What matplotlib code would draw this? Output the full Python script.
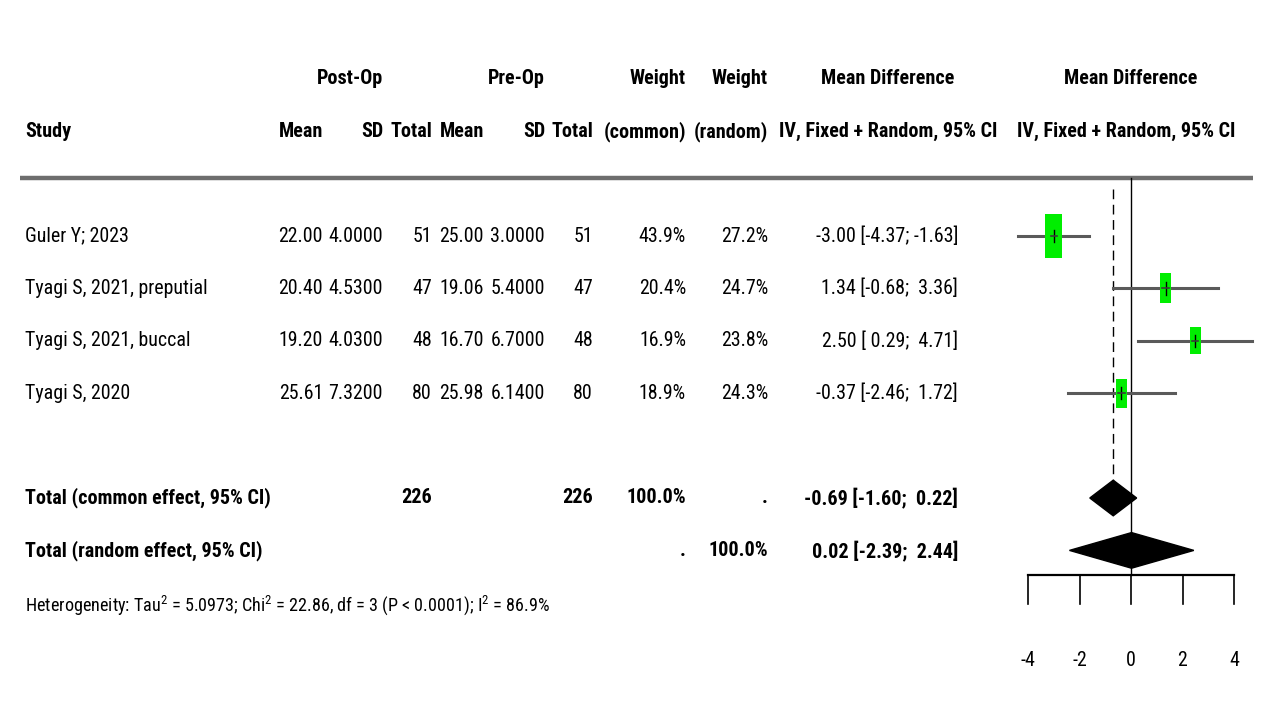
import matplotlib
matplotlib.use("Agg")
import matplotlib.pyplot as plt
from matplotlib import font_manager
from matplotlib.patches import Rectangle, Polygon
import numpy as np

# study data
studies = ["Guler Y; 2023", "Tyagi S, 2021, preputial", "Tyagi S, 2021, buccal", "Tyagi S, 2020"]
post_mean = ["22.00", "20.40", "19.20", "25.61"]
post_sd = ["4.0000", "4.5300", "4.0300", "7.3200"]
post_n = ["51", "47", "48", "80"]
pre_mean = ["25.00", "19.06", "16.70", "25.98"]
pre_sd = ["3.0000", "5.4000", "6.7000", "6.1400"]
pre_n = ["51", "47", "48", "80"]
w_common = [43.9, 20.4, 16.9, 18.9]
w_random = [27.2, 24.7, 23.8, 24.3]
md = [-3.00, 1.34, 2.50, -0.37]
lo = [-4.37, -0.68, 0.29, -2.46]
hi = [-1.63, 3.36, 4.71, 1.72]

# pooled estimates
pooled_labels = ["Total (common effect, 95% CI)", "Total (random effect, 95% CI)"]
pooled_md = [-0.69, 0.02]
pooled_lo = [-1.60, -2.39]
pooled_hi = [0.22, 2.44]
total_post = "226"
total_pre = "226"
het_text = ("Heterogeneity: Tau$^2$ = 5.0973; Chi$^2$ = 22.86, df = 3 "
            "(P < 0.0001); I$^2$ = 86.9%")
ticks = [-4, -2, 0, 2, 4]

# pick the narrowest sans available (reference uses a condensed Arial)
entries = font_manager.fontManager.ttflist
names = {f.name for f in entries}
stretch = "normal"
if "Liberation Sans Narrow" in names:
    fam = "Liberation Sans Narrow"
elif "Roboto Condensed" in names:
    fam = "Roboto Condensed"
elif any(f.name == "DejaVu Sans" and "ondensed" in f.fname for f in entries):
    fam = "DejaVu Sans"
    stretch = "condensed"
else:
    fam = "Liberation Sans"
plt.rcParams["font.family"] = [fam, "DejaVu Sans"]
plt.rcParams["font.stretch"] = stretch
plt.rcParams["mathtext.default"] = "regular"

W, H = 1269, 711
fig = plt.figure(figsize=(W / 100, H / 100), dpi=100)
renderer = fig.canvas.get_renderer()


def fit_size(s, target_px, **kw):
    t = fig.text(0, 0, s, fontsize=20, **kw)
    w = t.get_window_extent(renderer).width
    t.remove()
    return 20 * target_px / w


fs = fit_size("Tyagi S, 2021, preputial", 182)
fsb = fit_size("Total (common effect, 95% CI)", 245, fontweight="bold")
fsh = fit_size(het_text, 523)

# row r sits at pixel y = 236 + 52.4 * r
y_top = (0 - 236) / 52.4
y_bot = (H - 236) / 52.4

# text layer: x in pixels, y in rows
ax = fig.add_axes([0, 0, 1, 1])
ax.set_xlim(0, W)
ax.set_ylim(y_bot, y_top)
ax.axis("off")

# forest panel: x in mean-difference units
x0, x1 = 1028, 1234
fx = fig.add_axes([x0 / W, 0, (x1 - x0) / W, 1])
fx.set_xlim(-4, 4)
fx.set_ylim(y_bot, y_top)
fx.axis("off")

bold = dict(fontsize=fsb, fontweight="bold", va="center")
norm = dict(fontsize=fs, va="center")
col_x = [323, 383, 432, 484, 545, 593, 686, 768]

# headers
ax.text(350, -3, "Post-Op", ha="center", **bold)
ax.text(516, -3, "Pre-Op", ha="center", **bold)
ax.text(686, -3, "Weight", ha="right", **bold)
ax.text(768, -3, "Weight", ha="right", **bold)
ax.text(888, -3, "Mean Difference", ha="center", **bold)
ax.text(1131, -3, "Mean Difference", ha="center", **bold)
ax.text(25, -2, "Study", ha="left", **bold)
for x, s in zip(col_x, ["Mean", "SD", "Total", "Mean", "SD", "Total", "(common)", "(random)"]):
    ax.text(x, -2, s, ha="right", **bold)
ax.text(888, -2, "IV, Fixed + Random, 95% CI", ha="center", **bold)
ax.text(1126, -2, "IV, Fixed + Random, 95% CI", ha="center", **bold)

ax.plot([20, 1253], [-1.1, -1.1], color="#6e6e6e", lw=3.2, solid_capstyle="butt")

# study rows
for i, name in enumerate(studies):
    ax.text(25, i, name, ha="left", **norm)
    cols = [post_mean[i], post_sd[i], post_n[i], pre_mean[i], pre_sd[i], pre_n[i],
            f"{w_common[i]:.1f}%", f"{w_random[i]:.1f}%"]
    for x, s in zip(col_x, cols):
        ax.text(x, i, s, ha="right", **norm)
    ci = f"{md[i]:.2f} [{lo[i]:5.2f}; {hi[i]:5.2f}]"
    ax.text(958, i, ci, ha="right", **norm)

    fx.plot([lo[i], hi[i]], [i, i], color="#5a5a5a", lw=2.2, clip_on=False, zorder=2)
    sw = 0.0996 * np.sqrt(w_common[i])
    sh = 0.127 * np.sqrt(w_common[i])
    fx.add_patch(Rectangle((md[i] - sw / 2, i - sh / 2), sw, sh,
                           facecolor="#00ee00", edgecolor="none", zorder=3))
    fx.plot([md[i], md[i]], [i - 0.12, i + 0.12], color="black", lw=1, zorder=4)
    fx.plot([md[i] - 0.12, md[i] + 0.12], [i, i], color="#3a3a3a", lw=1.2, zorder=4)

# pooled rows
for k, r in enumerate([5, 6]):
    ax.text(25, r, pooled_labels[k], ha="left", **bold)
    ci = f"{pooled_md[k]:.2f} [{pooled_lo[k]:5.2f}; {pooled_hi[k]:5.2f}]"
    ax.text(958, r, ci, ha="right", **bold)
    dh = 0.34
    fx.add_patch(Polygon([[pooled_lo[k], r], [pooled_md[k], r - dh],
                          [pooled_hi[k], r], [pooled_md[k], r + dh]],
                         closed=True, facecolor="black", edgecolor="black", zorder=3))
ax.text(432, 5, total_post, ha="right", **bold)
ax.text(593, 5, total_pre, ha="right", **bold)
ax.text(686, 5, "100.0%", ha="right", **bold)
ax.text(768, 5, ".", ha="right", **bold)
ax.text(686, 6, ".", ha="right", **bold)
ax.text(768, 6, "100.0%", ha="right", **bold)

ax.text(25, 7.05, het_text, ha="left", fontsize=fsh, va="center")

# reference lines
fx.plot([0, 0], [-1.1, 6.47], color="black", lw=1, zorder=1)
fx.plot([pooled_md[0], pooled_md[0]], [-0.9, 4.85], color="black", lw=1,
        linestyle=(0, (7, 4)), zorder=1)

# x axis
ax_y = 6.47
fx.plot([ticks[0], ticks[-1]], [ax_y, ax_y], color="black", lw=1.6, clip_on=False)
for t in ticks:
    fx.plot([t, t], [ax_y, 7.03], color="black", lw=1.2, clip_on=False)
    fx.text(t, 8.1, str(t), ha="center", va="center", fontsize=fs)

fig.savefig("out.png", dpi=100)
